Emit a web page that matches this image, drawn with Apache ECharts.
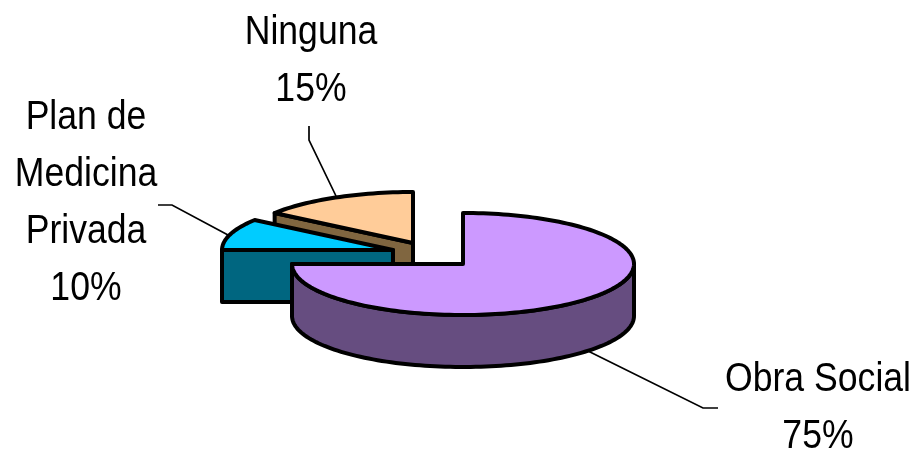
<!DOCTYPE html>
<html>
<head>
<meta charset="utf-8">
<style>html,body{margin:0;padding:0;background:#fff}#c{width:921px;height:451px}</style>
<script src="https://cdn.jsdelivr.net/npm/echarts@6/dist/echarts.min.js"></script>
</head>
<body>
<div id="c"></div>
<script>
const categories = ['Obra Social', 'Plan de\nMedicina\nPrivada', 'Ninguna'];
const shareValues = [75, 10, 15];
const topColors = ['#CC99FF', '#00CCFF', '#FFCC99'];
const sideColors = ['#664D80', '#006680', '#806640'];

// layout only
const centers = [[463, 264], [393, 250], [413, 243]];
const labelAnchors = [[818, 380], [86, 118], [311, 33]];
const leaders = [
  [[588, 351], [703, 408], [718, 408]],
  [[228, 235], [172, 205], [158, 205]],
  [[336, 196], [309, 140], [309, 126]]
];
const RX = 171, RY = 51, DEPTH = 52, LINE = 57;

const total = shareValues.reduce((a, b) => a + b, 0);
const starts = [];
shareValues.reduce((acc, v, i) => { starts[i] = acc; return acc + v; }, 0);
const rad = v => v / total * Math.PI * 2;
const stroke = { stroke: '#000', lineWidth: 4, lineJoin: 'round' };

function rimPoints(cx, cy, a0, a1, dy) {
  const pts = [];
  const n = Math.max(2, Math.ceil((a1 - a0) / 0.03));
  for (let k = 0; k <= n; k++) {
    const a = a0 + (a1 - a0) * k / n;
    pts.push([cx + RX * Math.sin(a), cy - RY * Math.cos(a) + dy]);
  }
  return pts;
}

function renderSlice(params, api) {
  const i = params.dataIndex;
  const v = api.value(0);
  const a0 = rad(starts[i]);
  const a1 = a0 + rad(v);
  const [cx, cy] = centers[i];
  const children = [];
  const side = pts => ({
    type: 'polygon',
    shape: { points: pts },
    style: Object.assign({ fill: sideColors[i] }, stroke)
  });
  // front-facing radial cut faces
  [[a0, -1], [a1, 1]].forEach(([a, sign]) => {
    if (sign * Math.sin(a) > 1e-6) {
      const p = [cx + RX * Math.sin(a), cy - RY * Math.cos(a)];
      children.push(side([[cx, cy], p, [p[0], p[1] + DEPTH], [cx, cy + DEPTH]]));
    }
  });
  // outer wall on the front half of the ellipse
  const w0 = Math.max(a0, Math.PI / 2), w1 = Math.min(a1, Math.PI * 1.5);
  if (w1 > w0) {
    children.push(side(rimPoints(cx, cy, w0, w1, 0).concat(rimPoints(cx, cy, w0, w1, DEPTH).reverse())));
  }
  // top surface
  children.push({
    type: 'polygon',
    shape: { points: [[cx, cy]].concat(rimPoints(cx, cy, a0, a1, 0)) },
    style: Object.assign({ fill: topColors[i] }, stroke)
  });
  // leader line
  children.push({
    type: 'polyline',
    shape: { points: leaders[i] },
    style: { stroke: '#000', lineWidth: 1.7, fill: null }
  });
  // label: tall, slightly narrow glyphs as in the reference
  const [lx, ly] = labelAnchors[i];
  children.push({
    type: 'text',
    x: lx,
    y: ly - LINE / 2,
    scaleX: 0.89,
    style: {
      text: categories[i] + '\n' + Math.round(v / total * 100) + '%',
      x: 0, y: 0,
      fill: '#000',
      font: '40px "Liberation Sans", Arial, sans-serif',
      lineHeight: LINE,
      align: 'center',
      verticalAlign: 'top'
    }
  });
  return { type: 'group', children };
}

// back slices are painted first
const chart = echarts.init(document.getElementById('c'), null, { renderer: 'canvas' });
const drawOrder = [2, 1, 0];
chart.setOption({
  backgroundColor: '#fff',
  animation: false,
  series: [{
    type: 'custom',
    coordinateSystem: 'none',
    renderItem: (params, api) => renderSlice({ dataIndex: drawOrder[params.dataIndex] }, api),
    data: drawOrder.map(i => [shareValues[i]])
  }]
});
</script>
</body>
</html>
